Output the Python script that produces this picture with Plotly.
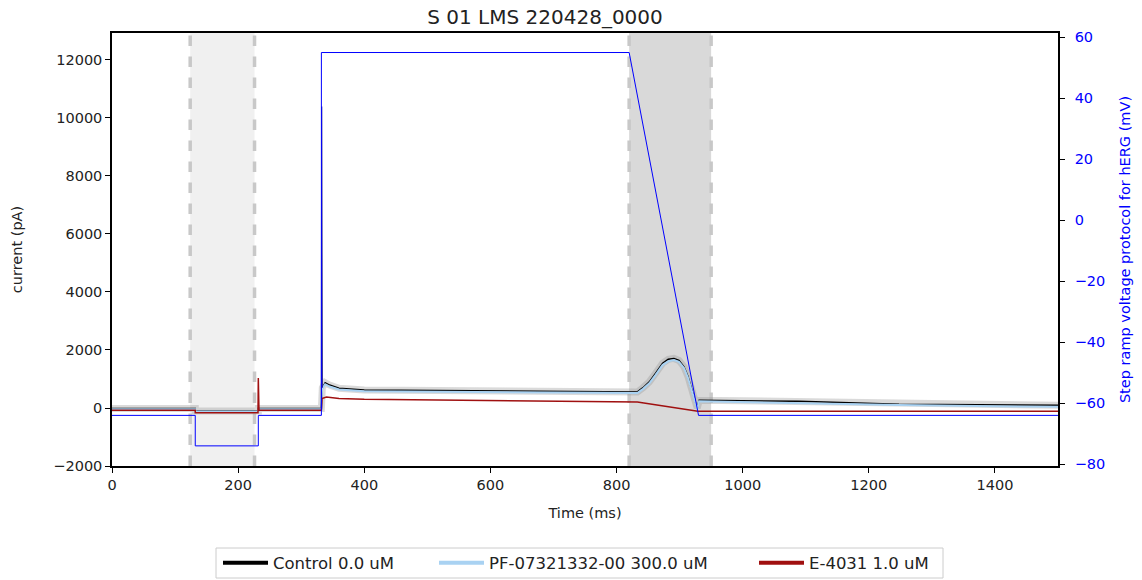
import plotly.graph_objects as go

# ---------------- data ----------------
# Voltage protocol (mV) vs time (ms)
v_time = [0, 132, 132, 232, 232, 332, 332, 820, 930, 1500]
v_mv = [-64, -64, -74, -74, -64, -64, 55, 55, -64, -64]

# Control 0.0 uM current (pA)
ctrl_time = [0, 132, 132, 232, 232, 332, 333.5, 338, 345, 360, 400, 500, 600, 700, 820,
             833, 842, 852, 862, 873, 882, 891, 899, 907, 913, 918, 923, 928, 931,
             1000, 1089, 1248, 1400, 1500]
ctrl_pa = [-20, -20, -100, -100, -20, -20, 700, 870, 790, 680, 620, 600, 580, 560, 540,
           553, 700, 900, 1200, 1545, 1680, 1710, 1640, 1420, 1100, 730, 350, -10, 270,
           245, 230, 130, 110, 95]

# capacitive transient at the voltage step (pA)
spike_time = [332, 332.5, 333.5]
spike_pa = [-20, 10400, 700]

# PF-07321332-00 300.0 uM current (pA)
pf_time = [0, 132, 132, 232, 232, 332, 333, 338, 345, 360, 400, 500, 600, 700, 820,
           833, 842, 852, 862, 873, 882, 891, 899, 907, 913, 918, 923, 928, 931,
           1000, 1089, 1248, 1400, 1500]
pf_pa = [-40, -40, -120, -120, -40, -40, 650, 820, 740, 640, 580, 560, 540, 520, 500,
         513, 660, 850, 1140, 1480, 1610, 1650, 1590, 1380, 1060, 700, 320, -40, 230,
         200, 180, 100, 60, 40]

# E-4031 1.0 uM current (pA)
e_time = [0, 132, 132, 231.5, 232, 233, 332, 333, 340, 360, 400, 600, 820, 833, 929, 1500]
e_pa = [-80, -80, -160, -160, 1030, -80, -80, 330, 380, 330, 300, 250, 210, 205, -115, -110]

# shaded windows (ms)
light_window = [124, 226]
dark_window = [820, 950]

x_ticks = [0, 200, 400, 600, 800, 1000, 1200, 1400]
y_ticks = [-2000, 0, 2000, 4000, 6000, 8000, 10000, 12000]
y2_ticks = [-80, -60, -40, -20, 0, 20, 40, 60]

series_names = ["Control 0.0 uM", "PF-07321332-00 300.0 uM", "E-4031 1.0 uM"]
series_colors = ["black", "#a9d2f2", "#a01010"]

title_text = "S 01 LMS 220428_0000"

# ---------------- figure ----------------
FONT = "DejaVu Sans"
fig = go.Figure()

# grey underlay (spread of sweeps)
fig.add_trace(go.Scatter(x=ctrl_time, y=ctrl_pa, mode="lines",
                         line=dict(color="rgba(150,150,150,0.35)", width=7),
                         showlegend=False, hoverinfo="skip"))
fig.add_trace(go.Scatter(x=ctrl_time, y=ctrl_pa, mode="lines", name=series_names[0],
                         line=dict(color=series_colors[0], width=1.5), showlegend=False))
fig.add_trace(go.Scatter(x=pf_time, y=pf_pa, mode="lines", name=series_names[1],
                         line=dict(color=series_colors[1], width=2), showlegend=False))
fig.add_trace(go.Scatter(x=e_time, y=e_pa, mode="lines", name=series_names[2],
                         line=dict(color=series_colors[2], width=1.5), showlegend=False))
fig.add_trace(go.Scatter(x=spike_time, y=spike_pa, mode="lines", showlegend=False,
                         line=dict(color="#23238f", width=1.2), hoverinfo="skip"))
fig.add_trace(go.Scatter(x=v_time, y=v_mv, mode="lines", yaxis="y2",
                         line=dict(color="blue", width=1), showlegend=False))

# legend entries (thick handles like the reference), one legend per entry
legend_ids = ["legend", "legend2", "legend3"]
for name, col, lid in zip(series_names, series_colors, legend_ids):
    fig.add_trace(go.Scatter(x=[None], y=[None], mode="lines", name=name, legend=lid,
                             line=dict(color=col, width=4)))

# shaded windows
for (a, b), col in ((light_window, "#f0f0f0"), (dark_window, "#d9d9d9")):
    fig.add_shape(type="rect", xref="x", yref="paper", x0=a, x1=b, y0=0, y1=1,
                  fillcolor=col, line=dict(width=0), layer="below")
    for xx in (a, b):
        fig.add_shape(type="line", xref="x", yref="paper", x0=xx, x1=xx, y0=0, y1=1,
                      line=dict(color="#c8c8c8", width=3.5, dash="dash"), layer="below")

# legend frame
PW, PH = 946, 433
fig.add_shape(type="rect", xref="paper", yref="paper",
              x0=(216 - 112) / PW, x1=(943 - 112) / PW,
              y0=(466 - 578) / PH, y1=(466 - 548) / PH,
              line=dict(color="#cccccc", width=1), fillcolor="white", layer="below")

neg = lambda v: ("\u2212" + str(abs(v))) if v < 0 else str(v)

TICK = 14.5
leg_common = dict(orientation="h", yanchor="middle", y=(466 - 563) / PH, xanchor="left",
                  bgcolor="rgba(0,0,0,0)", borderwidth=0, font=dict(size=16.5),
                  itemwidth=45)
legend_px = [218, 434, 754]

fig.update_layout(
    width=1142, height=580,
    margin=dict(l=112, r=84, t=33, b=114, autoexpand=False),
    paper_bgcolor="white", plot_bgcolor="white",
    font=dict(family=FONT, size=13, color="#222"),
    title=dict(text=title_text, x=545 / 1142, xanchor="center",
               y=1 - 17 / 580, yanchor="middle", font=dict(size=20, family=FONT, color="#222")),
    xaxis=dict(range=[0, 1500], tickvals=x_ticks, ticktext=[str(t) for t in x_ticks],
               ticks="outside", ticklen=5, tickcolor="black", showline=True, linecolor="black",
               linewidth=1.5, mirror=True, showgrid=False, zeroline=False, automargin=False,
               title=dict(text="Time (ms)", standoff=16, font=dict(size=TICK)),
               tickfont=dict(size=TICK)),
    yaxis=dict(range=[-2000, 12930], tickvals=y_ticks, ticktext=[neg(t) for t in y_ticks],
               ticks="outside", ticklen=5, tickcolor="black", showline=True, linecolor="black",
               linewidth=1.5, mirror=True, showgrid=False, zeroline=False, automargin=False,
               title=dict(text="current (pA)", standoff=27, font=dict(size=TICK)),
               tickfont=dict(size=TICK)),
    yaxis2=dict(range=[-80.6, 61.4], overlaying="y", side="right", tickvals=y2_ticks,
                ticktext=[neg(t) for t in y2_ticks], ticks="outside", ticklen=5,
                tickcolor="black", showline=True, linecolor="black", linewidth=1.5,
                showgrid=False, zeroline=False, automargin=False, ticklabelstandoff=7,
                tickfont=dict(size=TICK, color="blue"),
                title=dict(text="Step ramp voltage protocol for hERG (mV)", standoff=16,
                           font=dict(size=TICK, color="blue"))),
    legend=dict(x=(legend_px[0] - 112) / PW, **leg_common),
    legend2=dict(x=(legend_px[1] - 112) / PW, **leg_common),
    legend3=dict(x=(legend_px[2] - 112) / PW, **leg_common),
)

fig.write_html("out.html")
